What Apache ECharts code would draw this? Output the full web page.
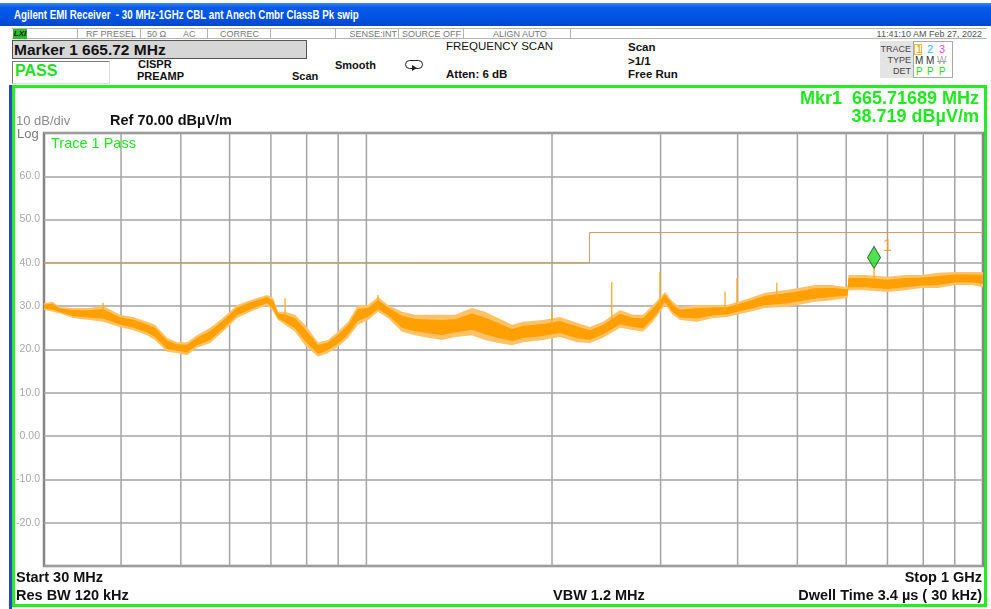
<!DOCTYPE html>
<html>
<head>
<meta charset="utf-8">
<title>EMI scan</title>
<script src="https://cdn.jsdelivr.net/npm/echarts@6/dist/echarts.min.js"></script>
<style>
  html, body { margin: 0; padding: 0; background: #fff; }
  #page { position: relative; width: 991px; height: 609px; overflow: hidden; font-family: "Liberation Sans", Arial, sans-serif; }
  .t { position: absolute; white-space: nowrap; line-height: 1; }
  .b { font-weight: bold; }
  .st { font-size: 9px; color: #777; top: 30px; }
  .sep { position: absolute; top: 29px; width: 1px; height: 10px; background: #b4b4b4; }
  .hdr { font-size: 11.5px; color: #111; }
  #titlebar { position: absolute; left: 0; top: 3px; width: 991px; height: 23px;
    background: linear-gradient(to bottom, #3d8af7 0%, #0a5ae8 18%, #0054e3 60%, #0048cc 100%); }
  #chart { position: absolute; left: 0; top: 0; width: 991px; height: 609px; z-index: 2; }
  #frame { position: absolute; left: 12px; top: 85px; width: 975px; height: 522px; box-sizing: border-box; border: 3px solid #22ee22; }
  #blueline { position: absolute; left: 9px; top: 85px; width: 3px; height: 524px; background: #2448c8; }
</style>
</head>
<body>
<div id="page">
  <div id="titlebar"></div>
  <div class="t b" style="left:14px;top:8.5px;font-size:12.5px;color:#fff;transform:scaleX(0.78);transform-origin:0 0;">Agilent EMI Receiver&nbsp; - 30 MHz-1GHz CBL ant Anech Cmbr ClassB Pk swip</div>

  <!-- status row -->
  <div style="position:absolute;left:12px;top:28px;width:975px;height:11px;border-top:1px solid #b4b4b4;border-bottom:1px solid #b4b4b4;box-sizing:border-box;"></div>
  <div class="t b" style="left:13px;top:29px;width:14px;height:10px;background:#2fb82f;color:#0a2a0a;font-size:8px;font-style:italic;line-height:10px;text-align:center;">LXI</div>
  <div class="sep" style="left:77px"></div>
  <div class="sep" style="left:140px"></div>
  <div class="sep" style="left:207px"></div>
  <div class="sep" style="left:270px"></div>
  <div class="sep" style="left:335px"></div>
  <div class="sep" style="left:398px"></div>
  <div class="sep" style="left:463px"></div>
  <div class="sep" style="left:570px"></div>
  <div class="t st" style="left:86px">RF PRESEL</div>
  <div class="t st" style="left:147px">50 Ω</div>
  <div class="t st" style="left:183px">AC</div>
  <div class="t st" style="left:220px">CORREC</div>
  <div class="t st" style="right:594px">SENSE:INT</div>
  <div class="t st" style="left:402px">SOURCE OFF</div>
  <div class="t st" style="left:493px">ALIGN AUTO</div>
  <div class="t st" style="right:9px;color:#555">11:41:10 AM Feb 27, 2022</div>

  <!-- header -->
  <div style="position:absolute;left:12px;top:40px;width:295px;height:19px;background:#d6d6d6;border:1px solid #555;box-sizing:border-box;"></div>
  <div class="t b" style="left:14px;top:42px;font-size:15.5px;color:#111;">Marker 1 665.72 MHz</div>
  <div style="position:absolute;left:12px;top:61px;width:98px;height:23px;background:#fff;border:1px solid;border-color:#7a7a7a #dcdcdc #dcdcdc #7a7a7a;box-sizing:border-box;"></div>
  <div class="t b" style="left:15px;top:63px;font-size:16px;color:#22dd22;">PASS</div>
  <div class="t b hdr" style="left:138px;top:59px;font-size:11px;">CISPR</div>
  <div class="t b hdr" style="left:137px;top:71px;font-size:11px;">PREAMP</div>
  <div class="t b hdr" style="left:292px;top:71px;font-size:11px;">Scan</div>
  <div class="t b hdr" style="left:335px;top:60px;font-size:11px;">Smooth</div>
  <div style="position:absolute;left:405px;top:60px;width:16px;height:7px;border:1.5px solid #222;border-radius:5px;"></div>
  <div style="position:absolute;left:412px;top:65px;width:0;height:0;border-top:3px solid transparent;border-bottom:3px solid transparent;border-left:5px solid #222;"></div>
  <div class="t hdr" style="left:446px;top:41px;">FREQUENCY SCAN</div>
  <div class="t b hdr" style="left:446px;top:69px;">Atten: 6 dB</div>
  <div class="t b hdr" style="left:628px;top:42px;">Scan</div>
  <div class="t b hdr" style="left:628px;top:56px;">&gt;1/1</div>
  <div class="t b hdr" style="left:628px;top:69px;">Free Run</div>

  <!-- trace box -->
  <div style="position:absolute;left:880px;top:41px;width:73px;height:37px;background:#e4e4e4;"></div>
  <div style="position:absolute;left:913px;top:41px;width:40px;height:37px;background:#fff;border:1px solid #a8a8a8;box-sizing:border-box;"></div>
  <div class="t" style="right:80px;top:45px;font-size:9px;color:#444;">TRACE</div>
  <div class="t" style="right:80px;top:56px;font-size:9px;color:#444;">TYPE</div>
  <div class="t" style="right:80px;top:67px;font-size:9px;color:#444;">DET</div>
  <div style="position:absolute;left:914px;top:44px;width:8px;height:11px;border:1px solid #e8c040;box-sizing:border-box;"></div>
  <div class="t" style="left:916px;top:44px;font-size:11px;color:#ff9900;">1</div>
  <div class="t" style="left:927px;top:44px;font-size:11px;color:#33bbff;">2</div>
  <div class="t" style="left:939px;top:44px;font-size:11px;color:#ff44ff;">3</div>
  <div class="t" style="left:915px;top:56px;font-size:10px;color:#333;">M</div>
  <div class="t" style="left:926px;top:56px;font-size:10px;color:#333;">M</div>
  <div class="t" style="left:937px;top:56px;font-size:10px;color:#aaa;text-decoration:line-through;">W</div>
  <div class="t" style="left:916px;top:67px;font-size:10px;color:#22dd22;">P</div>
  <div class="t" style="left:927px;top:67px;font-size:10px;color:#22dd22;">P</div>
  <div class="t" style="left:939px;top:67px;font-size:10px;color:#22dd22;">P</div>

  <div id="blueline"></div>
  <div id="frame"></div>
  <div id="chart"></div>
</div>

<script>
// trace envelope (MHz, dBuV/m)
const freqMHz = [30.0, 31.0, 31.8, 33.4, 35.6, 37.4, 39.8, 41.8, 44.1, 45.4,
  47.5, 49.3, 51.2, 53.1, 55.8, 58.5, 61.7, 64.8, 69.0, 70.6,
  71.9, 73.8, 76.6, 79.5, 83.5, 86.6, 89.9, 93.4, 96.9, 100.6,
  104.4, 108.4, 114.2, 119.9, 125.9, 132.6, 139.2, 148.3, 155.7, 163.5,
  172.3, 179.5, 193.4, 206, 219.5, 230.5, 242, 257.8, 270.7, 281,
  291.6, 305, 314, 322.6, 343.7, 364.9, 384.5, 408, 419, 443,
  477.4, 501, 534, 569, 603, 605, 643.8, 701, 747.6, 796,
  845, 901, 960, 1000]
const upperDb = [30.7, 31.0, 29.8, 29.6, 29.6, 30.1, 28.0, 27.5, 26.4, 25.7,
  22.7, 21.7, 21.7, 23.3, 25.0, 27.3, 30.3, 31.4, 32.6, 31.9,
  28.7, 28.7, 28.0, 25.7, 21.7, 22.2, 24.1, 26.4, 30.3, 30.3,
  32.1, 30.3, 28.7, 28.0, 28.0, 28.0, 28.0, 29.6, 28.7, 27.3,
  25.7, 26.4, 26.8, 27.5, 26.2, 25.2, 26.4, 29.1, 28.0, 28.0,
  30.3, 33.3, 31.0, 29.8, 30.3, 30.3, 30.3, 31.4, 31.9, 33.1,
  33.7, 34.2, 34.9, 34.9, 34.4, 37.2, 37.2, 36.8, 37.2, 37.2,
  37.7, 37.9, 37.9, 37.9]
const lowerDb = [29.1, 28.7, 28.4, 27.3, 26.8, 26.4, 25.2, 24.5, 23.3, 22.2,
  19.5, 19.2, 18.7, 20.4, 21.5, 24.1, 27.3, 28.7, 30.3, 28.7,
  26.8, 25.7, 24.1, 21.0, 18.3, 19.2, 20.6, 22.7, 25.7, 26.8,
  28.7, 27.3, 24.1, 23.3, 22.7, 22.2, 22.9, 23.3, 22.2, 21.5,
  21.0, 21.7, 22.2, 22.9, 21.7, 21.5, 22.7, 25.0, 24.5, 24.1,
  26.4, 30.3, 28.0, 26.8, 26.4, 27.3, 27.5, 28.4, 28.7, 29.6,
  29.8, 30.3, 31.0, 31.4, 31.9, 33.7, 33.7, 33.3, 33.7, 34.2,
  34.2, 34.9, 34.9, 34.4]

// narrow spikes above the noise
const spikeFreq = [37.4, 73.8, 104.4, 200, 250, 299.3, 381.6, 399, 463, 665.72]
const spikeBase = [28.0, 27.0, 29.0, 26.0, 27.0, 30.0, 29.0, 30.0, 32.0, 36.0]
const spikePeak = [30.8, 31.9, 32.6, 28.7, 35.6, 37.9, 33.4, 36.5, 35.4, 38.7]

// CISPR class B limit
const limitFreq = [30, 230, 230, 1000]
const limitDb = [40, 40, 47, 47]

// log grid lines
const gridFreqs = [40, 50, 60, 70, 80, 90, 100, 200, 300, 400, 500, 600, 700, 800, 900]

const markerFreq = 665.72
const markerDb = 38.72

const green = '#1fe81f'
const gridColor = '#a4a4a4'

const myChart = echarts.init(document.getElementById('chart'))

function txt(text, x, y, font, fill, align) {
  return {
    type: 'text', x: x, y: y, z: 100,
    style: { text: text, font: font, fill: fill, textAlign: align || 'left', textVerticalAlign: 'middle' }
  }
}

const option = {
  animation: false,
  backgroundColor: 'transparent',
  grid: {
    left: 44, right: 8, top: 133, bottom: 43,
    show: true, borderColor: '#858585', borderWidth: 2.5, backgroundColor: '#fff'
  },
  xAxis: {
    type: 'log', logBase: 10, min: 30, max: 1000,
    axisLabel: { show: false }, axisTick: { show: false }, axisLine: { show: false },
    splitLine: { show: false }
  },
  yAxis: {
    type: 'value', min: -30, max: 70, interval: 10,
    axisLine: { show: false }, axisTick: { show: false },
    axisLabel: {
      margin: 4, color: '#a8a8a8', fontSize: 10.5, fontFamily: 'Liberation Sans',
      formatter: function (v) {
        if (v === 70 || v === -30) return ''
        return v === 0 ? '0.00' : v.toFixed(1)
      }
    },
    splitLine: { show: true, lineStyle: { color: gridColor, width: 1.5 } }
  },
  graphic: [
    txt('10 dB/div', 16, 121, '13px "Liberation Sans"', '#8c8c8c'),
    txt('Log', 17, 134, '13px "Liberation Sans"', '#7c7c7c'),
    txt('Ref 70.00 dBµV/m', 110, 121, 'bold 14.5px "Liberation Sans"', '#111'),
    txt('Trace 1 Pass', 51, 144, '14.5px "Liberation Sans"', green),
    txt('Mkr1  665.71689 MHz', 979, 99, 'bold 18px "Liberation Sans"', green, 'right'),
    txt('38.719 dBµV/m', 979, 117, 'bold 18px "Liberation Sans"', green, 'right'),
    txt('Start 30 MHz', 16, 578, 'bold 14.5px "Liberation Sans"', '#111'),
    txt('Res BW 120 kHz', 16, 596, 'bold 14.5px "Liberation Sans"', '#111'),
    txt('VBW 1.2 MHz', 553, 596, 'bold 14.5px "Liberation Sans"', '#111'),
    txt('Stop 1 GHz', 982, 578, 'bold 14.5px "Liberation Sans"', '#111', 'right'),
    txt('Dwell Time 3.4 µs ( 30 kHz)', 982, 596, 'bold 14.5px "Liberation Sans"', '#111', 'right')
  ],
  series: [
    {
      // vertical log grid
      type: 'custom',
      z: 1,
      silent: true,
      encode: { x: 0, y: 1 },
      data: gridFreqs.map(f => [f, 0]),
      renderItem: function (params, api) {
        const x = api.coord([api.value(0), 0])[0]
        const cs = params.coordSys
        return {
          type: 'line',
          shape: { x1: x, y1: cs.y, x2: x, y2: cs.y + cs.height },
          style: { stroke: gridColor, lineWidth: 1.5 }
        }
      }
    },
    {
      name: 'Limit',
      type: 'line',
      z: 3,
      symbol: 'none',
      lineStyle: { color: '#c99b5e', width: 1 },
      data: limitFreq.map((f, i) => [f, limitDb[i]])
    },
    {
      // trace 1: light outer envelope + solid core
      type: 'custom',
      z: 4,
      silent: true,
      encode: { x: 0, y: 1 },
      data: [[freqMHz[0], upperDb[0]]],
      renderItem: function (params, api) {
        const top = freqMHz.map((f, i) => api.coord([f, upperDb[i]]))
        const bottom = freqMHz.map((f, i) => api.coord([f, lowerDb[i]]))
        const coreTop = freqMHz.map((f, i) => api.coord([f, upperDb[i] - (upperDb[i] - lowerDb[i]) * 0.2]))
        const coreBottom = freqMHz.map((f, i) => api.coord([f, lowerDb[i] + (upperDb[i] - lowerDb[i]) * 0.2]))
        return {
          type: 'group',
          children: [
            { type: 'polygon', shape: { points: top.concat(bottom.slice().reverse()) }, style: { fill: '#ffc266' } },
            { type: 'polygon', shape: { points: coreTop.concat(coreBottom.slice().reverse()) }, style: { fill: '#ffa000' } }
          ]
        }
      }
    },
    {
      // spikes
      type: 'custom',
      z: 5,
      silent: true,
      encode: { x: 0, y: [1, 2] },
      data: spikeFreq.map((f, i) => [f, spikeBase[i], spikePeak[i]]),
      renderItem: function (params, api) {
        const p1 = api.coord([api.value(0), api.value(1)])
        const p2 = api.coord([api.value(0), api.value(2)])
        return {
          type: 'line',
          shape: { x1: p1[0], y1: p1[1], x2: p2[0], y2: p2[1] },
          style: { stroke: '#ffaa22', lineWidth: 1.3 }
        }
      }
    },
    {
      name: 'Marker 1',
      type: 'scatter',
      z: 6,
      symbol: 'diamond',
      symbolSize: [13, 22],
      symbolOffset: [0, -11],
      itemStyle: { color: '#22dd22', borderColor: '#1d4d1d', borderWidth: 1 },
      label: {
        show: true, position: 'right', offset: [-3, -11],
        formatter: '1', color: '#ff9900', fontSize: 16, fontFamily: 'Liberation Sans'
      },
      data: [[markerFreq, markerDb]]
    }
  ]
}

myChart.setOption(option)
</script>
</body>
</html>
